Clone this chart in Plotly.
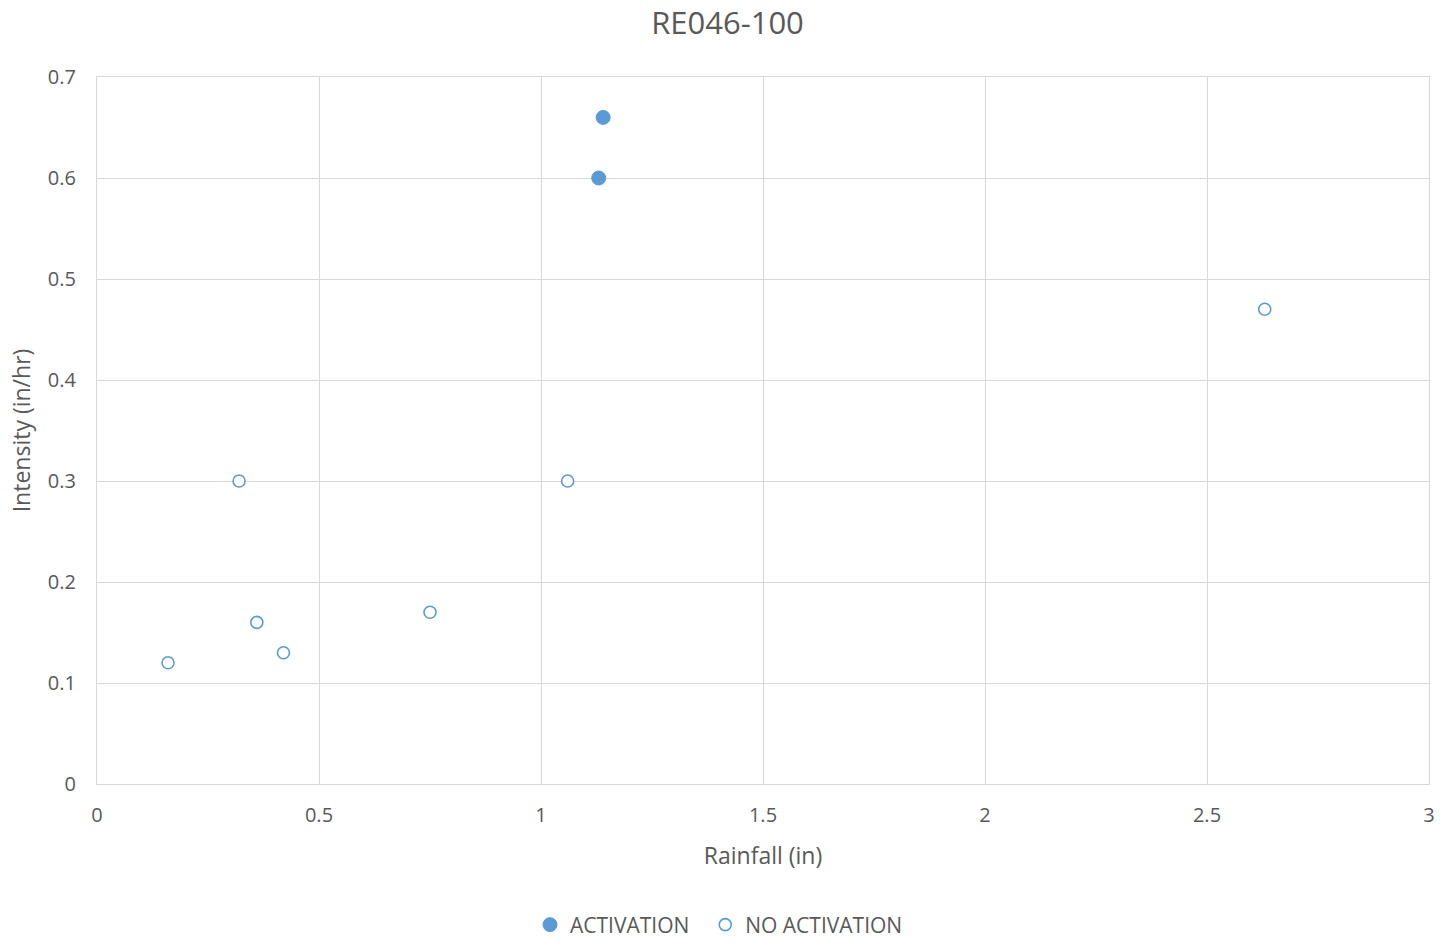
import plotly.graph_objects as go

act_x = [1.14, 1.13]
act_y = [0.66, 0.60]
noact_x = [0.16, 0.32, 0.36, 0.42, 0.75, 1.06, 2.63]
noact_y = [0.12, 0.30, 0.16, 0.13, 0.17, 0.30, 0.47]

title = "RE046-100"
x_title = "Rainfall (in)"
y_title = "Intensity (in/hr)"

blue = "#5B9BD5"
grey = "#595959"
font = "Open Sans, Noto Sans, sans-serif"

fig = go.Figure()
fig.add_trace(go.Scatter(x=act_x, y=act_y, mode="markers", name="ACTIVATION\u00a0\u00a0",
                         marker=dict(size=14, color=blue, line=dict(color=blue, width=1))))
fig.add_trace(go.Scatter(x=noact_x, y=noact_y, mode="markers", name="NO ACTIVATION",
                         marker=dict(size=12, color="white", line=dict(color=blue, width=1.6))))

axis_common = dict(showgrid=True, gridcolor="#D9D9D9", gridwidth=1.3, zeroline=False,
                   showline=True, linecolor="#D9D9D9", linewidth=1.3, mirror=True,
                   ticks="outside", tickcolor="rgba(0,0,0,0)",
                   tickfont=dict(size=20, color=grey, family=font))

fig.update_layout(
    width=1455, height=943,
    paper_bgcolor="white", plot_bgcolor="white",
    margin=dict(l=97, r=26, t=77, b=159, autoexpand=False),
    title=dict(text=title, x=0.5, xanchor="center", y=1 - 23 / 943, yanchor="middle",
               font=dict(size=31, color=grey, family=font)),
    xaxis=dict(range=[0, 3], dtick=0.5, ticklen=13,
               title=dict(text=x_title, standoff=20, font=dict(size=23, color=grey, family=font)),
               **axis_common),
    yaxis=dict(range=[0, 0.7], dtick=0.1, ticklen=16,
               title=dict(text=y_title, standoff=10, font=dict(size=23, color=grey, family=font)),
               **axis_common),
    legend=dict(orientation="h", xref="container", yref="container",
                x=(552 - 22) / 1455, xanchor="left", y=1 - 925 / 943, yanchor="middle",
                font=dict(size=21, color=grey, family=font), itemwidth=30,
                tracegroupgap=0),
    showlegend=True,
)
fig.write_html("out.html", config={"displayModeBar": False},
               post_script="document.body.style.margin='0';")
